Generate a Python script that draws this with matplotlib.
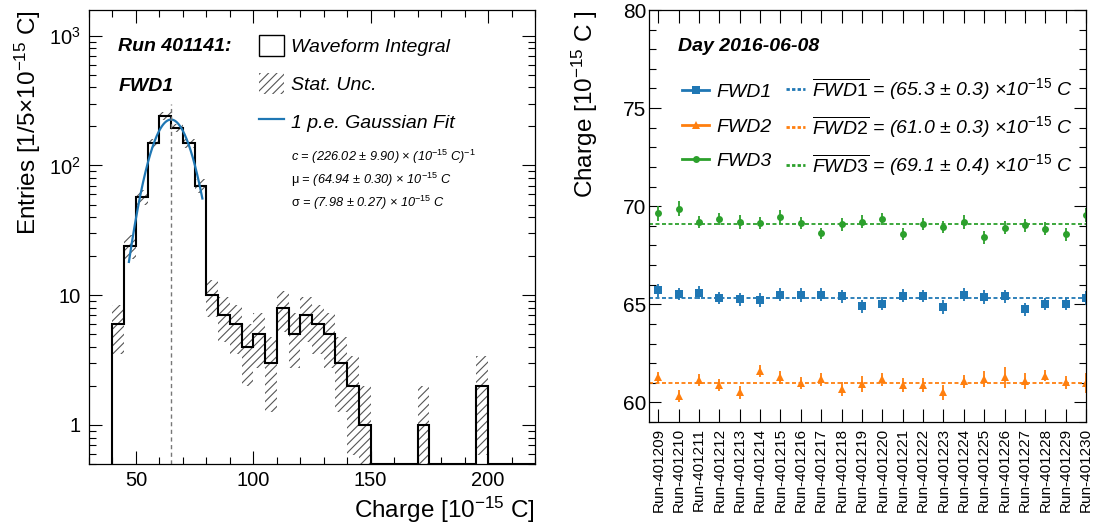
import numpy as np
import matplotlib
matplotlib.use('Agg')
import matplotlib.pyplot as plt
from matplotlib.lines import Line2D
from matplotlib.patches import Patch
from matplotlib.ticker import (FixedLocator, MultipleLocator, LogLocator,
                               FixedFormatter, NullFormatter)

plt.rcParams['font.family'] = ['Liberation Sans', 'DejaVu Sans']
plt.rcParams['mathtext.fontset'] = 'custom'
plt.rcParams['mathtext.rm'] = 'Liberation Sans'
plt.rcParams['mathtext.it'] = 'Liberation Sans:italic'
plt.rcParams['mathtext.bf'] = 'Liberation Sans:bold'
plt.rcParams['hatch.linewidth'] = 0.8

# ---------------- data: left histogram ----------------
hist_start = 40
bin_width = 5
hist_counts = [6, 24, 57, 149, 241, 194, 149, 70, 10, 7, 6, 4, 5, 3, 8, 5, 7, 6,
               5, 3, 2, 1, 0, 0, 0, 0, 1, 0, 0, 0, 0, 2, 0, 0, 0, 0]
fit_c = 226.02
fit_mu = 64.94
fit_sigma = 7.98
fit_range = (47.0, 78.3)
mu_line_top = 300
y_ticks_left = [1, 10, 100, 1000]
y_ticklabels_left = ['1', '10', '$10^{2}$', '$10^{3}$']
legend_left = ['Waveform Integral', 'Stat. Unc.', '1 p.e. Gaussian Fit']
stat_lines = ['c = (226.02 ± 9.90) × (10$^{-15}$ C)$^{-1}$',
              r'$\mathrm{\mu}$ = (64.94 ± 0.30) × 10$^{-15}$ C',
              r'$\mathrm{\sigma}$ = (7.98 ± 0.27) × 10$^{-15}$ C']

# ---------------- data: right chart ----------------
runs = ['Run-4012%02d' % r for r in range(9, 31)]
fwd1 = [65.71, 65.54, 65.59, 65.31, 65.25, 65.20, 65.49, 65.47, 65.49, 65.41, 64.90,
        65.03, 65.44, 65.41, 64.86, 65.49, 65.37, 65.41, 64.75, 65.02, 65.02, 65.32]
fwd1_err = [0.34, 0.30, 0.34, 0.31, 0.34, 0.36, 0.33, 0.36, 0.33, 0.34, 0.34,
            0.34, 0.34, 0.30, 0.34, 0.33, 0.34, 0.34, 0.33, 0.31, 0.31, 0.34]
fwd2 = [61.27, 60.31, 61.14, 60.88, 60.51, 61.61, 61.27, 60.97, 61.17, 60.68, 60.93,
        61.17, 60.88, 60.88, 60.51, 61.08, 61.19, 61.27, 61.10, 61.36, 61.02, 60.98]
fwd2_err = [0.27, 0.30, 0.30, 0.31, 0.32, 0.30, 0.32, 0.31, 0.34, 0.36, 0.42,
            0.34, 0.34, 0.34, 0.38, 0.34, 0.41, 0.55, 0.41, 0.28, 0.34, 0.51]
fwd3 = [69.64, 69.88, 69.20, 69.34, 69.20, 69.14, 69.47, 69.14, 68.61, 69.08, 69.20,
        69.34, 68.58, 69.10, 68.93, 69.20, 68.42, 68.90, 69.03, 68.85, 68.58, 69.56]
fwd3_err = [0.37, 0.36, 0.30, 0.32, 0.36, 0.31, 0.36, 0.32, 0.30, 0.32, 0.33,
            0.32, 0.31, 0.32, 0.30, 0.36, 0.33, 0.34, 0.33, 0.32, 0.33, 0.36]
means = [65.3, 61.0, 69.1]
mean_errs = [0.3, 0.3, 0.4]
series_names = ['FWD1', 'FWD2', 'FWD3']
colors = ['#1f77b4', '#ff7f0e', '#2ca02c']
markers = ['s', '^', 'o']
msizes = [5.2, 6.0, 5.0]

W, H = 1093, 527
fig = plt.figure(figsize=(W / 100, H / 100), dpi=100)

# ================= left panel =================
ax1 = fig.add_axes([89 / W, (H - 464) / H, 446 / W, 454 / H])
ax1.set_yscale('log')
ymin, ymax = 0.5, 1580
ax1.set_xlim(30, 220)
ax1.set_ylim(ymin, ymax)

counts = np.array(hist_counts, dtype=float)
edges = hist_start + bin_width * np.arange(len(counts) + 1)
err = np.sqrt(counts)
lo = np.clip(counts - err, ymin, None)
hi = np.clip(counts + err, ymin, None)
ax1.stairs(hi, edges, baseline=lo, fill=True, facecolor='none',
           edgecolor='#555555', hatch='////', linewidth=0)
ax1.stairs(np.clip(counts, ymin, None), edges, baseline=ymin,
           color='black', linewidth=1.5)

xf = np.linspace(fit_range[0], fit_range[1], 200)
yf = fit_c * np.exp(-0.5 * ((xf - fit_mu) / fit_sigma) ** 2)
ax1.plot(xf, yf, color=colors[0], lw=1.6)
ax1.plot([fit_mu, fit_mu], [ymin, mu_line_top], color='#777777', lw=1.0,
         ls=(0, (3, 2.5)))

ax1.xaxis.set_major_locator(MultipleLocator(50))
ax1.xaxis.set_minor_locator(MultipleLocator(10))
ax1.yaxis.set_major_locator(FixedLocator(y_ticks_left))
ax1.yaxis.set_major_formatter(FixedFormatter(y_ticklabels_left))
ax1.yaxis.set_minor_locator(LogLocator(base=10, subs=np.arange(2, 10)))
ax1.yaxis.set_minor_formatter(NullFormatter())
ax1.tick_params(which='both', direction='in', top=True, right=True, width=0.8,
                labelsize=14.5)
ax1.tick_params(which='major', length=9.5)
ax1.tick_params(which='minor', length=4.8)
ax1.tick_params(axis='x', pad=5)
ax1.tick_params(axis='y', pad=6)
for s in ax1.spines.values():
    s.set_linewidth(0.9)

ax1.set_ylabel('Entries [1/5×10$^{-15}$ C]', fontsize=17.5, loc='top')
ax1.yaxis.label.set_va('center')
ax1.yaxis.set_label_coords(-0.137, 1.0)
ax1.set_xlabel('Charge [10$^{-15}$ C]', fontsize=17.5, loc='right')
ax1.xaxis.label.set_va('center')
ax1.xaxis.set_label_coords(1.0, -0.101)

ax1.text(0.0657, 0.919, 'Run 401141:', transform=ax1.transAxes, fontsize=14,
         fontweight='bold', style='italic', va='center', ha='left')
ax1.text(0.0657, 0.832, 'FWD1', transform=ax1.transAxes, fontsize=14,
         fontweight='bold', style='italic', va='center', ha='left')

hL = [Patch(facecolor='white', edgecolor='black', lw=1.0),
      Patch(facecolor='none', edgecolor='#555555', hatch='////', lw=0),
      Line2D([], [], color=colors[0], lw=1.6)]
legL = ax1.legend(hL, legend_left, loc='center left', bbox_to_anchor=(0.382, 0.8385),
                  frameon=False, prop={'style': 'italic', 'size': 14},
                  handlelength=1.29, handleheight=1.29, handletextpad=0.36,
                  labelspacing=0.86, borderpad=0, borderaxespad=0)

for i, (txt, yy) in enumerate(zip(stat_lines, [0.676, 0.626, 0.575])):
    ax1.text(0.453, yy, txt, transform=ax1.transAxes, fontsize=9.2,
             style='italic', va='center', ha='left')

# ================= right panel =================
ax2 = fig.add_axes([649.3 / W, (H - 422) / H, 436.7 / W, 412 / H])
x = np.arange(len(runs))
ax2.set_xlim(-0.44, 21.0)
ax2.set_ylim(59, 80)

for vals, errs, c, m, ms, mean in zip([fwd1, fwd2, fwd3], [fwd1_err, fwd2_err, fwd3_err],
                                      colors, markers, msizes, means):
    ax2.axhline(mean, color=c, lw=1.3, ls=(0, (2.2, 1.4)))
    ax2.errorbar(x, vals, yerr=errs, fmt=m, color=c, ms=ms, elinewidth=1.3,
                 capsize=0, mew=0)

ax2.set_xticks(x)
ax2.set_xticklabels(runs, rotation=90, fontsize=11)
ax2.yaxis.set_major_locator(MultipleLocator(5))
ax2.yaxis.set_minor_locator(MultipleLocator(1))
ax2.tick_params(which='both', direction='in', top=True, right=True, width=0.8)
ax2.tick_params(axis='x', which='major', length=9.2, pad=4)
ax2.tick_params(axis='y', which='major', length=8.6, labelsize=15, pad=2)
ax2.tick_params(axis='y', which='minor', length=4.8)
for s in ax2.spines.values():
    s.set_linewidth(0.9)

ax2.set_ylabel('Charge [10$^{-15}$ C ]', fontsize=17.5, loc='top')
ax2.yaxis.label.set_va('center')
ax2.yaxis.set_label_coords(-0.147, 1.0)

ax2.text(0.0664, 0.911, 'Day 2016-06-08', transform=ax2.transAxes, fontsize=14,
         fontweight='bold', style='italic', va='center', ha='left')

h1 = [Line2D([], [], color=c, marker=m, ms=ms, lw=2, mew=0)
      for c, m, ms in zip(colors, markers, msizes)]
leg1 = ax2.legend(h1, series_names, loc='center left', bbox_to_anchor=(0.0742, 0.7167),
                  frameon=False, prop={'style': 'italic', 'size': 14},
                  handlelength=1.42, handletextpad=0.38, labelspacing=0.88,
                  borderpad=0, borderaxespad=0)
ax2.add_artist(leg1)
h2 = [Line2D([], [], color=c, lw=2, ls=(0, (1.2, 0.8))) for c in colors]
labels2 = [r'$\overline{\mathit{%s}}$ = (%.1f ± %.1f) ×10$^{-15}$ C' % (n, mv, me)
           for n, mv, me in zip(series_names, means, mean_errs)]
leg2 = ax2.legend(h2, labels2, loc='center left', bbox_to_anchor=(0.312, 0.7167),
                  frameon=False, prop={'style': 'italic', 'size': 14},
                  handlelength=1.0, handletextpad=0.35, labelspacing=0.63,
                  borderpad=0, borderaxespad=0)

fig.savefig('out.png', dpi=100)
